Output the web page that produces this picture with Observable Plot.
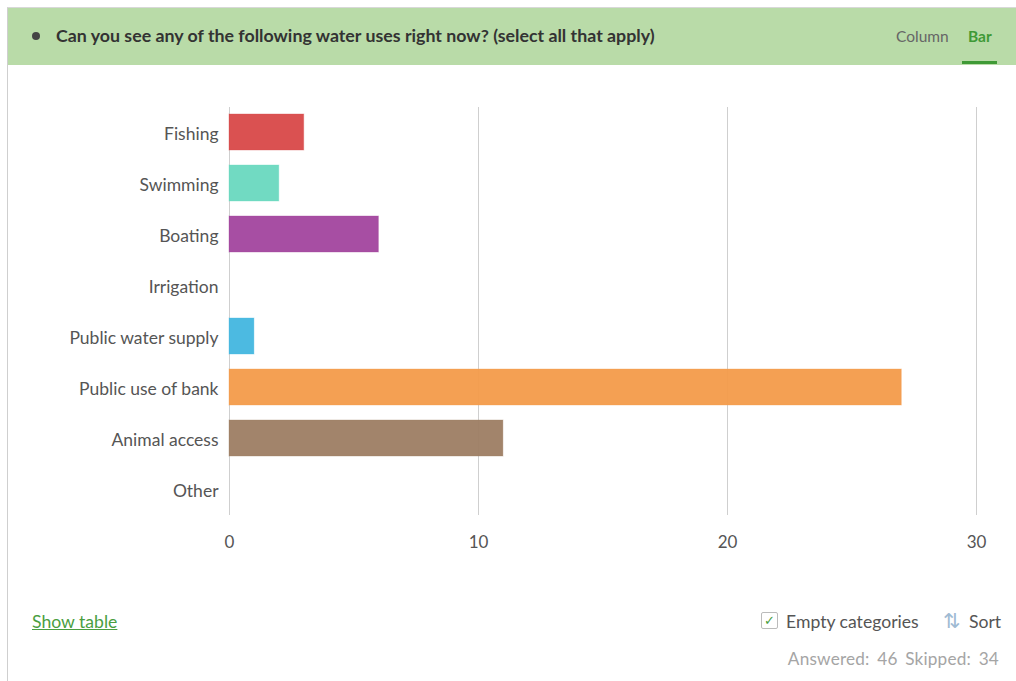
<!DOCTYPE html>
<html>
<head>
<meta charset="utf-8">
<script src="https://cdn.jsdelivr.net/npm/d3@7"></script>
<script src="https://cdn.jsdelivr.net/npm/@observablehq/plot@0.6"></script>
<style>
  html, body { margin: 0; padding: 0; background: #fff; width: 1016px; height: 681px; overflow: hidden; font-family: Lato, "Open Sans", sans-serif; }
  .frame { position: absolute; left: 7px; top: 7px; width: 1009px; height: 674px; border-left: 1px solid #cfcfcf; border-top: 1px solid #d8d8d8; }
  .header { position: absolute; left: 8px; top: 8px; width: 1008px; height: 57px; background: #b9dba8; }
  .bullet { position: absolute; left: 32px; top: 32px; width: 8px; height: 8px; border-radius: 50%; background: #444; }
  .title { position: absolute; left: 56px; top: 24px; font-size: 17.8px; font-weight: bold; color: #333; white-space: nowrap; }
  .tab { position: absolute; top: 27px; font-size: 15.5px; white-space: nowrap; }
  .col { left: 896px; color: #666; }
  .bar { left: 968px; color: #3f9a36; font-weight: bold; }
  .tabline { position: absolute; left: 962px; top: 61px; width: 35px; height: 3px; background: #3f9a36; }
  #chart { position: absolute; left: 0; top: 66px; }
  .show { position: absolute; left: 32px; top: 611px; font-size: 17.6px; color: #4a9e3f; text-decoration: underline; }
  .check { position: absolute; left: 761px; top: 612px; width: 17px; height: 17px; border: 1px solid #bbb; border-radius: 2px; box-sizing: border-box; color: #4a9e3f; font-size: 13px; line-height: 15px; text-align: center; }
  .empty { position: absolute; left: 786px; top: 611px; font-size: 17.6px; color: #555; white-space: nowrap; }
  .sorticon { position: absolute; left: 943px; top: 607px; font-size: 21px; color: #9fbbd3; }
  .sort { position: absolute; left: 969px; top: 611px; font-size: 17.6px; color: #555; }
  .stats { position: absolute; right: 17px; top: 648px; font-size: 17.2px; color: #a5a5a5; white-space: nowrap; word-spacing: 3px; letter-spacing: 0.2px; }
</style>
</head>
<body>
<div class="frame"></div>
<div class="header"></div>
<div class="bullet"></div>
<div class="title">Can you see any of the following water uses right now? (select all that apply)</div>
<div class="tab col">Column</div>
<div class="tab bar">Bar</div>
<div class="tabline"></div>
<div id="chart"></div>
<div class="show">Show table</div>
<div class="check">✓</div>
<div class="empty">Empty categories</div>
<div class="sorticon">⇅</div>
<div class="sort">Sort</div>
<div class="stats">Answered: 46 Skipped: 34</div>
<script>
const categories = ["Fishing", "Swimming", "Boating", "Irrigation", "Public water supply", "Public use of bank", "Animal access", "Other"];
const counts = [3, 2, 6, 0, 1, 27, 11, 0];
const palette = ["#d84a4a", "#6bd9c0", "#a3479f", "#8a8a8a", "#45b7e0", "#f49c4c", "#9e7f65", "#999999"];
const xTicks = [0, 10, 20, 30];

const data = categories.map((c, i) => ({category: c, count: counts[i]}));

const chart = Plot.plot({
  width: 1016,
  height: 500,
  marginLeft: 229,
  marginRight: 40,
  marginTop: 41,
  marginBottom: 51,
  style: {fontFamily: "Lato, 'Open Sans', sans-serif", fontSize: "17.5px", color: "#555", background: "transparent"},
  x: {domain: [0, 30], ticks: xTicks, label: null},
  y: {domain: categories, paddingInner: 0.29, paddingOuter: 0.145, label: null},
  color: {domain: categories, range: palette},
  marks: [
    Plot.gridX(xTicks, {stroke: "#cfcfcf", strokeOpacity: 1}),
    Plot.barX(data, {x: "count", y: "category", fill: "category", fillOpacity: 0.96, stroke: "category", strokeOpacity: 0.35}),
    Plot.axisX(xTicks, {tickSize: 0, tickPadding: 20, fontSize: 17, fill: "#555", label: null}),
    Plot.axisY({tickSize: 0, tickPadding: 11, fontSize: 17.5, fill: "#555", label: null, dy: 1.5})
  ]
});
document.getElementById("chart").appendChild(chart);
</script>
</body>
</html>
